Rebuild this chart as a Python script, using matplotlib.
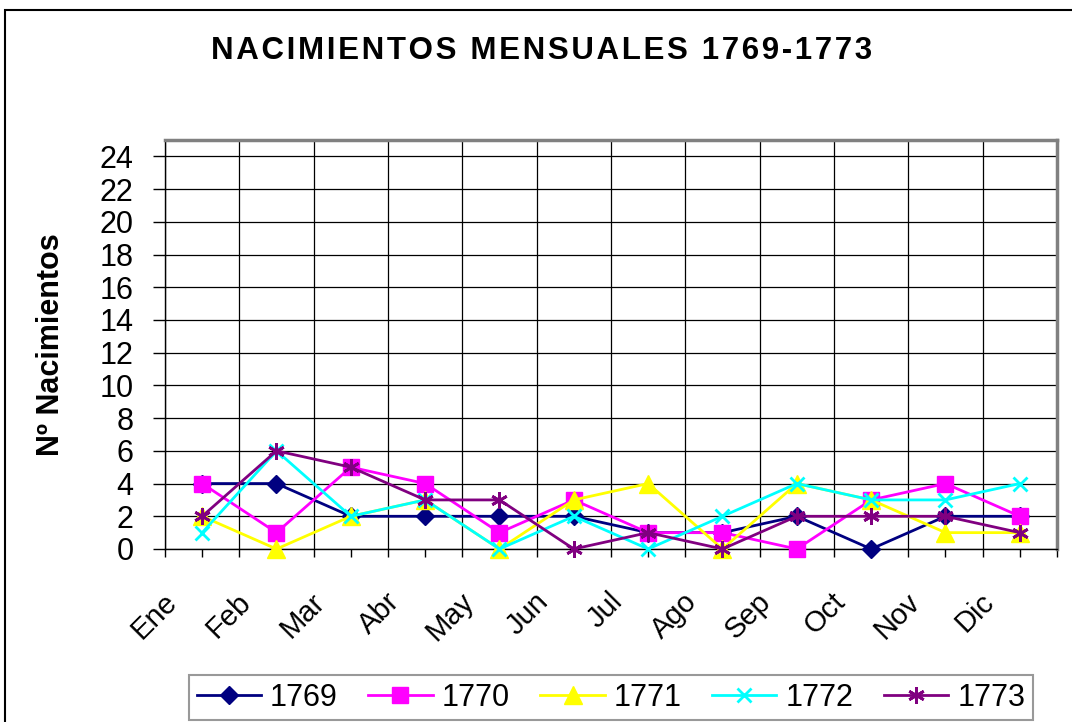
import matplotlib.pyplot as plt
import matplotlib.transforms as mtransforms
from matplotlib.patches import Rectangle
from matplotlib.ticker import FixedLocator

# datos
meses = ['Ene', 'Feb', 'Mar', 'Abr', 'May', 'Jun', 'Jul', 'Ago', 'Sep', 'Oct', 'Nov', 'Dic']
n1769 = [4, 4, 2, 2, 2, 2, 1, 1, 2, 0, 2, 2]
n1770 = [4, 1, 5, 4, 1, 3, 1, 1, 0, 3, 4, 2]
n1771 = [2, 0, 2, 3, 0, 3, 4, 0, 4, 3, 1, 1]
n1772 = [1, 6, 2, 3, 0, 2, 0, 2, 4, 3, 3, 4]
n1773 = [2, 6, 5, 3, 3, 0, 1, 0, 2, 2, 2, 1]
yticks = list(range(0, 25, 2))
titulo = 'NACIMIENTOS MENSUALES 1769-1773'

plt.rcParams['font.family'] = ['Liberation Sans', 'DejaVu Sans']

fig = plt.figure(figsize=(10.72, 7.22), dpi=100)
W, H = 1072, 722
ax = fig.add_axes([165 / W, 1 - 549 / H, (1057 - 165) / W, (549 - 140) / H])

# marco exterior
fig.patches.append(Rectangle((5 / W, -0.1), 1.2, 1 - 10 / H + 0.1, transform=fig.transFigure,
                             fill=False, edgecolor='black', linewidth=1.5))

x = list(range(len(meses)))
series = [
    ('1769', n1769, '#000080', 'D', 9),
    ('1770', n1770, '#FF00FF', 's', 12),
    ('1771', n1771, '#FFFF00', '^', 13),
    ('1772', n1772, '#00FFFF', 'x', 10),
    ('1773', n1773, '#800080', (6, 2, 0), 12),
]
for name, vals, col, mk, ms in series:
    ax.plot(x, vals, color=col, marker=mk, markersize=ms, linewidth=2,
            markeredgewidth=2 if mk in ('x', (6, 2, 0)) else 1,
            markeredgecolor=col, markerfacecolor=col, label=name, clip_on=False, zorder=3)

ax.set_xlim(-0.5, 11.5)
ax.set_ylim(0, 25)
ax.set_yticks(yticks)
ax.set_yticklabels([str(v) for v in yticks], fontsize=22)
ax.tick_params(axis='y', direction='out', length=8.6, width=1, pad=14, colors='black')

# separadores de categoria con rejilla, etiquetas en el centro
ax.xaxis.set_minor_locator(FixedLocator([i - 0.5 for i in range(13)]))
ax.set_xticks(x)
ax.set_xticklabels(meses, fontsize=21, rotation=45, ha='right', va='center', rotation_mode='anchor')
ax.tick_params(axis='x', which='both', direction='out', length=5.8, width=1)
ax.tick_params(axis='x', which='major', pad=29)
off = mtransforms.ScaledTranslation(-0.30, 0, fig.dpi_scale_trans)
for lab in ax.get_xticklabels():
    lab.set_transform(lab.get_transform() + off)

ax.grid(True, axis='y', which='major', color='black', linewidth=0.9)
ax.grid(True, axis='x', which='minor', color='black', linewidth=0.9)
ax.grid(False, axis='x', which='major')
ax.set_axisbelow(True)

for s in ['top', 'right']:
    ax.spines[s].set_color('#808080')
    ax.spines[s].set_linewidth(2.5)
for s in ['left', 'bottom']:
    ax.spines[s].set_color('black')
    ax.spines[s].set_linewidth(1)

ax.set_ylabel('Nº Nacimientos', fontsize=22, fontweight='bold')
ax.yaxis.set_label_coords(-(165 - 66) / (1057 - 165), 0.5)

fig.text(542 / W, 1 - 51 / H, '\u200a'.join(titulo),
         ha='center', va='center', fontsize=22.5, fontweight='bold')

leg = fig.legend(loc='upper left', bbox_to_anchor=(189 / W, 1 - 675 / H), ncol=5,
                 fontsize=22, frameon=True, fancybox=False, edgecolor='#808080',
                 handlelength=2.1, handletextpad=0.3, columnspacing=1.0,
                 borderpad=0.25, borderaxespad=0)
leg.get_frame().set_linewidth(1.5)

fig.savefig('out.png', dpi=100)
